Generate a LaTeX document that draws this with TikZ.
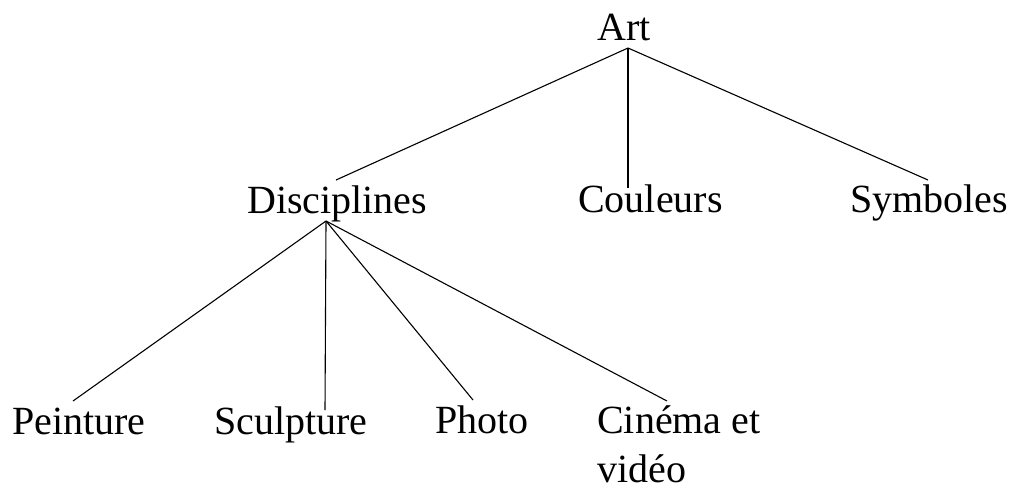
\documentclass[tikz,border=0pt]{standalone}
\usepackage{fontspec}
\setmainfont{Liberation Serif}
\begin{document}
\begin{tikzpicture}[x=1pt,y=-1pt,
  lbl/.style={anchor=base west,inner sep=0pt,font=\fontsize{40}{49}\selectfont},
  edge/.style={line width=1.1pt,black}]
\useasboundingbox (0,0) rectangle (1016,491);
\node[lbl] (art) at (597,40) {Art};
\node[lbl] (disc) at (247,213) {Disciplines};
\node[lbl] (coul) at (578,212) {Couleurs};
\node[lbl] (symb) at (850,212) {Symboles};
\node[lbl] (pein) at (12,434) {Peinture};
\node[lbl] (sculp) at (214,434) {Sculpture};
\node[lbl] (photo) at (435,433) {Photo};
\node[lbl] (cin) at (597,433) {Cinéma et};
\node[lbl] (vid) at (597,482) {vidéo};
% attachment points
\coordinate (artB) at (628,48);
\coordinate (discT) at (336,180);
\coordinate (coulT) at (628,188);
\coordinate (symbT) at (928,180);
\coordinate (discB) at (326,221);
\coordinate (peinT) at (73,401);
\coordinate (sculpT) at (325,410);
\coordinate (photoT) at (473,400);
\coordinate (cinT) at (667,401);
\draw[edge] (artB) -- (discT);
\draw[edge] (artB) -- (coulT);
\draw[edge] (artB) -- (symbT);
\draw[edge] (discB) -- (peinT);
\draw[edge] (discB) -- (sculpT);
\draw[edge] (discB) -- (photoT);
\draw[edge] (discB) -- (cinT);
\end{tikzpicture}
\end{document}
